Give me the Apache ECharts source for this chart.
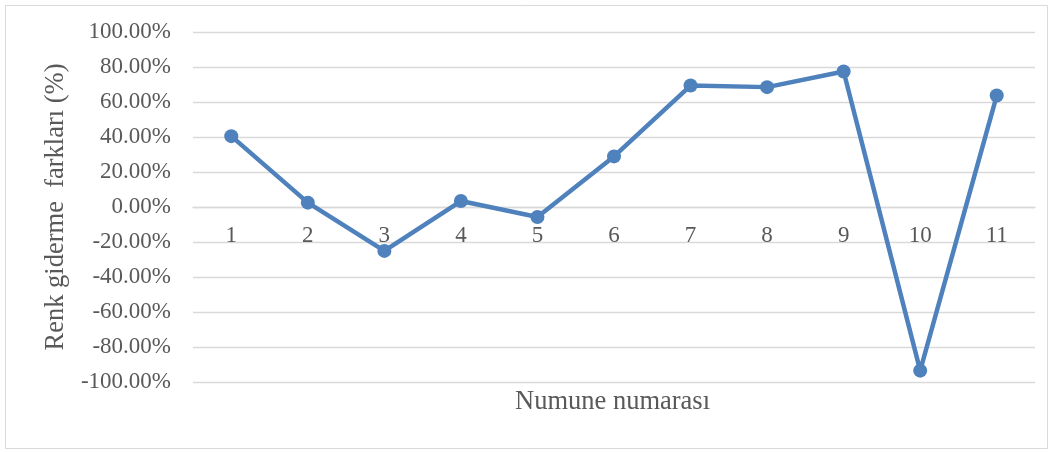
<!DOCTYPE html>
<html>
<head>
<meta charset="utf-8">
<script src="https://cdn.jsdelivr.net/npm/echarts@6/dist/echarts.min.js"></script>
<style>
  html, body { margin: 0; padding: 0; background: #fff; }
  #chart { width: 1053px; height: 452px; }
</style>
</head>
<body>
<div id="chart"></div>
<script>
// Sample numbers on the horizontal axis
const categories = ['1', '2', '3', '4', '5', '6', '7', '8', '9', '10', '11'];
// Colour-removal difference per sample, in percent
const differences = [40.5, 2.5, -25.1, 3.4, -5.7, 28.9, 69.4, 68.5, 77.4, -93.5, 63.7];
// Value axis range and step, in percent
const yMin = -100;
const yMax = 100;
const yStep = 20;

const FONT = '"Liberation Serif", "Times New Roman", serif';
const TEXT = '#595959';
const GRID = '#d9d9d9';

// Plot area box; the value range is symmetric, so zero sits half-way down
const GRID_TOP = 32;
const GRID_BOTTOM = 70;
const PLOT_HEIGHT = 452 - GRID_TOP - GRID_BOTTOM;

const chart = echarts.init(document.getElementById('chart'), null, { renderer: 'canvas' });

chart.setOption({
  backgroundColor: '#ffffff',
  animation: false,
  title: {
    text: 'Numune numarası',
    left: 515,
    top: 389,
    padding: 0,
    textStyle: { fontFamily: FONT, fontSize: 26.5, fontWeight: 'normal', color: TEXT }
  },
  graphic: [{
    type: 'rect',
    shape: { x: 5.5, y: 5.5, width: 1042, height: 443 },
    style: { fill: 'none', stroke: GRID, lineWidth: 1 },
    silent: true
  }],
  grid: { left: 193, right: 18, top: GRID_TOP, bottom: GRID_BOTTOM, containLabel: false },
  xAxis: {
    type: 'category',
    data: categories,
    boundaryGap: true,
    // category axis drawn across the zero line of the value axis
    offset: -PLOT_HEIGHT / 2,
    axisLine: { show: true, onZero: false, lineStyle: { color: GRID, width: 1.3 } },
    axisTick: { show: false },
    axisLabel: { color: TEXT, fontFamily: FONT, fontSize: 23, margin: 17 },
    splitLine: { show: false }
  },
  yAxis: {
    type: 'value',
    min: yMin,
    max: yMax,
    interval: yStep,
    name: 'Renk giderme  farkları (%)',
    nameLocation: 'middle',
    nameGap: 118,
    nameTextStyle: { color: TEXT, fontFamily: FONT, fontSize: 26.5 },
    axisLine: { show: false, onZero: false },
    axisTick: { show: false },
    axisLabel: {
      color: TEXT, fontFamily: FONT, fontSize: 23, margin: 22,
      formatter: v => v.toFixed(2) + '%'
    },
    splitLine: { lineStyle: { color: GRID, width: 1.3 } }
  },
  series: [{
    type: 'line',
    data: differences,
    symbol: 'circle',
    symbolSize: 14,
    lineStyle: { color: '#4f81bd', width: 4.5 },
    itemStyle: { color: '#4f81bd' },
    z: 3
  }]
});
</script>
</body>
</html>
